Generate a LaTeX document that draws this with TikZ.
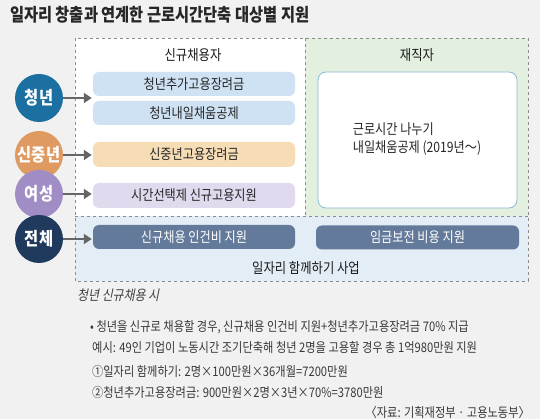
\documentclass[tikz,border=0pt]{standalone}
\usepackage{fontspec}
\setmainfont{Noto Sans CJK KR}[FakeStretch=0.85]
\newfontfamily\slantfont{Noto Sans CJK KR}[FakeStretch=0.85,FakeSlant=0.2]
\usepackage{tikz}
\usetikzlibrary{arrows.meta,positioning,calc}

\definecolor{pagebg}{HTML}{F1F1F1}
\definecolor{youthblue}{HTML}{1B6FA1}
\definecolor{midorange}{HTML}{DF9A62}
\definecolor{womanpurple}{HTML}{A18DC5}
\definecolor{allnavy}{HTML}{1F3A5C}
\definecolor{barblue}{HTML}{CFE2F4}
\definecolor{barorange}{HTML}{F6DDB6}
\definecolor{barpurple}{HTML}{E1DAEE}
\definecolor{barslate}{HTML}{637A9B}
\definecolor{zonegreen}{HTML}{E4F0DF}
\definecolor{zoneblue}{HTML}{E2EDF5}
\definecolor{frameblue}{HTML}{8CBAD8}

\begin{document}
\begin{tikzpicture}[x=1pt, y=-1pt,
        zone/.style={draw=black!45, dashed, line width=0.6pt},
        bar/.style={rounded corners=6pt, minimum width=202pt, minimum height=24pt, inner sep=0pt, font=\fontsize{14.3}{16}\selectfont, text=black!85},
        who/.style={circle, minimum size=48pt, inner sep=0pt, text=white, font=\fontsize{18}{19}\selectfont\bfseries},
        arrow/.style={-{Triangle[width=10pt,length=8pt]}, line width=2.6pt, draw=black!60},
        head/.style={font=\fontsize{14.5}{16}\selectfont, text=black!90, inner sep=0pt},
        note/.style={anchor=west, font=\fontsize{13.2}{15}\selectfont, text=black!78, inner sep=0pt}
    ]

    \useasboundingbox (0,0) rectangle (540,419);
    \fill[pagebg] (0,0) rectangle (540,419);

    % title
    \node[anchor=west, inner sep=0pt, text=black!85, font=\fontsize{18}{20}\selectfont\bfseries] (title) at (10,15) {일자리 창출과 연계한 근로시간단축 대상별 지원};

    % zones
    \fill[white] (75,38) rectangle (305,216);
    \fill[zonegreen] (305,38) rectangle (528,216);
    \fill[zoneblue] (75,216) rectangle (528,281);
    \draw[zone] (75,38) rectangle (528,281);
    \draw[zone] (305,38) -- (305,216);
    \draw[zone] (75,216) -- (528,216);

    \node[head] (newhire) at (193,55) {신규채용자};
    \node[head] (employed) at (417,55) {재직자};
    \node[head] (together) at (306,268) {일자리 함께하기 사업};

    % programme bars
    \node[bar, fill=barblue] (youthbonus) at (194,84) {청년추가고용장려금};
    \node[bar, fill=barblue] (youthfund) at (194,113) {청년내일채움공제};
    \node[bar, fill=barorange, minimum height=25pt] (midbonus) at (194,154.5) {신중년고용장려금};
    \node[bar, fill=barpurple, minimum height=25pt] (flexhire) at (194,195.5) {시간선택제 신규고용지원};
    \node[bar, fill=barslate, text=white] (laborcost) at (194,237) {신규채용 인건비 지원};
    \node[bar, fill=barslate, text=white, minimum width=203pt] (wagecomp) at (417.5,237.5) {임금보전 비용 지원};

    \node[draw=frameblue, line width=0.8pt, fill=white, rounded corners=8pt, minimum width=199pt, minimum height=136pt] (sharebox) at (417.5,140) {};
    \node[align=left, font=\fontsize{14.3}{18}\selectfont, text=black!85] (sharetext) at (417,139) {근로시간 나누기\\내일채움공제 (2019년～)};

    % target groups
    \node[who, fill=youthblue] (youth) at (39,98) {청년};
    \node[who, fill=midorange] (middle) at (39,155) {신중년};
    \node[who, fill=womanpurple] (woman) at (39,194) {여성};
    \node[who, fill=allnavy] (everyone) at (39,239) {전체};

    \draw[arrow] (youth.east) -- ($(youth.east -| youthbonus.west)+(-1,0)$);
    \draw[arrow] (middle.east) -- ($(middle.east -| midbonus.west)+(-1,0)$);
    \draw[arrow] (woman.east) -- ($(woman.east -| flexhire.west)+(-1,0)$);
    \draw[arrow] (everyone.east) -- ($(everyone.east -| laborcost.west)+(-1,0)$);

    % example below
    \node[anchor=west, inner sep=0pt, text=black!75, font=\slantfont\fontsize{14}{16}\selectfont] (casehead) at (77,295) {청년 신규채용 시};
    \node[note] (line1) at (90,327) {• 청년을 신규로 채용할 경우, 신규채용 인건비 지원+청년추가고용장려금 70\% 지급};
    \node[note] (line2) at (92,348) {예시: 49인 기업이 노동시간 조기단축해 청년 2명을 고용할 경우 총 1억980만원 지원};
    \node[note] (line3) at (92,371) {①일자리 함께하기: 2명×100만원×36개월=7200만원};
    \node[note] (line4) at (92,392) {②청년추가고용장려금: 900만원×2명×3년×70\%=3780만원};
    \node[note, anchor=east] (source) at (530,412) {〈자료: 기획재정부 · 고용노동부〉};

\end{tikzpicture}
\end{document}
